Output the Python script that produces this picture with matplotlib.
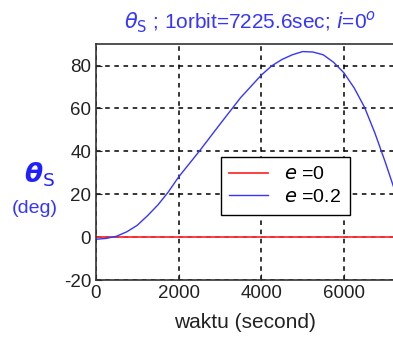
import matplotlib
matplotlib.use("Agg")
import matplotlib.pyplot as plt

# time (s) and theta_S (deg)
t_e0 = [0, 7225.6]
theta_e0 = [0, 0]

t_e02 = [0, 250, 500, 750, 1000, 1250, 1500, 1750, 2000, 2500, 3000, 3500,
         4000, 4250, 4500, 4750, 5000, 5250, 5500, 5750, 6000, 6250, 6500,
         6750, 7000, 7225.6]
theta_e02 = [-1, -0.6, 0.4, 2.5, 5.5, 10, 15, 21, 28, 40, 52.6, 65,
             75.5, 79.8, 82.8, 85, 86.5, 86.3, 85, 81.5, 76.6, 69.5, 60.5,
             48.5, 35, 22]

xticks = [0, 2000, 4000, 6000]
yticks = [-20, 0, 20, 40, 60, 80]

plt.rcParams['font.family'] = ['Liberation Sans', 'DejaVu Sans']
plt.rcParams['axes.unicode_minus'] = False

fig = plt.figure(figsize=(3.93, 3.39), dpi=100)
ax = fig.add_axes([0.244, 0.174, 0.76, 0.696])

ax.plot(t_e0, theta_e0, color='#ff3030', lw=1.3, label='$e$ =0')
ax.plot(t_e02, theta_e02, color='#3535ff', lw=1.0, label='$e$ =0.2')

ax.set_xlim(0, 7225.6)
ax.set_ylim(-20, 90)
ax.set_xticks(xticks)
ax.set_yticks(yticks)
ax.tick_params(direction='in', labelsize=13.5, length=4, colors='#222222')
ax.grid(True, color='black', linestyle=(0, (3, 3)), lw=1.1)
for s in ax.spines.values():
    s.set_color('#333333')
    s.set_linewidth(1.2)

ax.set_xlabel('waktu (second)', fontsize=15, color='#222222', labelpad=8)

leg = ax.legend(loc='upper left', bbox_to_anchor=(0.418, 0.521), fontsize=14,
                fancybox=False, framealpha=1, edgecolor='black',
                handlelength=2.0, borderpad=0.45, labelspacing=0.25,
                borderaxespad=0, handletextpad=0.8)
leg.get_frame().set_linewidth(1.0)

fig.text(0.636, 0.935, r'$\theta_{\rm S}$ ; 1orbit=7225.6sec; $i$=0$^o$',
         color='#3535ff', fontsize=15, ha='center', va='center')
fig.text(0.1, 0.485, r'$\boldsymbol{\theta}_{\rm S}$', color='#2020ff', fontsize=19,
         ha='center', va='center')
fig.text(0.089, 0.386, '(deg)', color='#3535ff', fontsize=14, ha='center', va='center')

fig.savefig('out.png', dpi=100)
